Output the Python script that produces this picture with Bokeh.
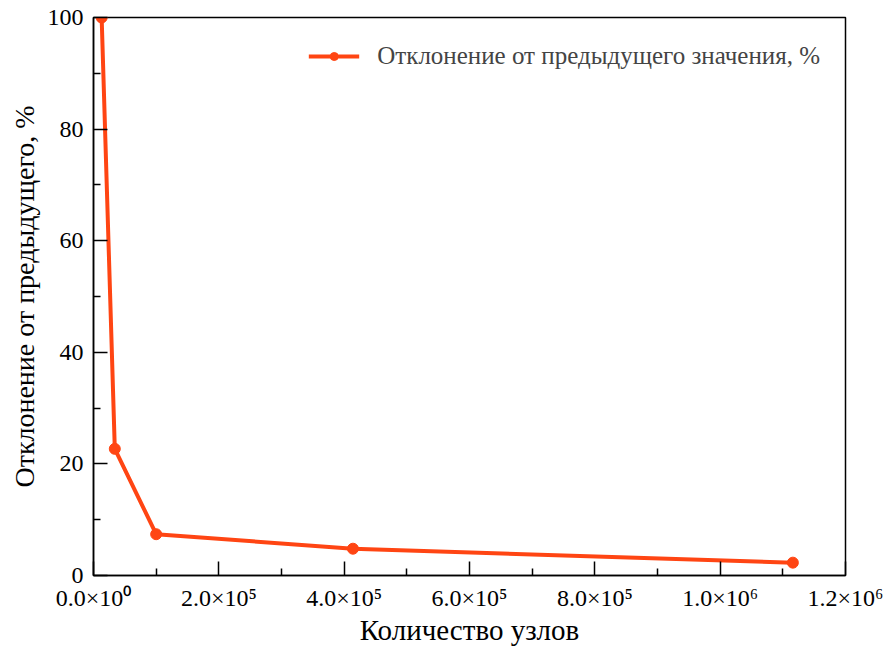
from bokeh.plotting import figure
from bokeh.models import FixedTicker, CustomJSTickFormatter, Range1d, Legend, LegendItem
from bokeh.embed import file_html
from bokeh.resources import INLINE

# data
nodes = [13000, 34000, 100000, 414000, 1116000]
deviation = [100.0, 22.7, 7.4, 4.8, 2.3]

x_ticks = [0, 200000, 400000, 600000, 800000, 1000000, 1200000]
x_minor = [100000, 300000, 500000, 700000, 900000, 1100000]
y_ticks = [0, 20, 40, 60, 80, 100]
y_minor = [10, 30, 50, 70, 90]

series_label = "Отклонение от предыдущего значения, %"
x_title = "Количество узлов"
y_title = "Отклонение от предыдущего, %"

FONT = "Liberation Serif"
COLOR = "#FF4513"

p = figure(width=884, height=649, output_backend="svg", toolbar_location=None,
           x_range=Range1d(0, 1200000), y_range=Range1d(0, 100),
           min_border_left=93, min_border_right=39, min_border_top=17, min_border_bottom=74)

p.xgrid.visible = False
p.ygrid.visible = False
p.outline_line_color = "black"
p.outline_line_width = 1.5
p.background_fill_color = "white"
p.border_fill_color = "white"

fmt = CustomJSTickFormatter(code="""
const sup = {'0':'\u2070','1':'\u00b9','2':'\u00b2','3':'\u00b3','4':'\u2074','5':'\u2075','6':'\u2076','7':'\u2077','8':'\u2078','9':'\u2079','-':'\u207b'};
if (tick == 0) { return "0.0\u00d710\u2070"; }
let e = Math.floor(Math.log10(Math.abs(tick)) + 1e-9);
let m = tick / Math.pow(10, e);
return m.toFixed(1) + "\u00d710" + String(e).split('').map(c => sup[c]).join('');
""")

xa = p.xaxis[0]
xa.ticker = FixedTicker(ticks=x_ticks, minor_ticks=x_minor)
xa.formatter = fmt
ya = p.yaxis[0]
ya.ticker = FixedTicker(ticks=y_ticks, minor_ticks=y_minor)

for ax in (xa, ya):
    ax.major_tick_in = 14
    ax.major_tick_out = 0
    ax.minor_tick_in = 7
    ax.minor_tick_out = 0
    ax.axis_line_width = 1.5
    ax.major_tick_line_width = 1.5
    ax.minor_tick_line_width = 1.5
    ax.major_label_text_font = FONT
    ax.major_label_text_font_size = "24px"
    ax.major_label_text_color = "black"
    ax.axis_label_text_font = FONT
    ax.axis_label_text_font_style = "normal"
    ax.axis_label_text_color = "black"

xa.axis_label = x_title
ya.axis_label = y_title
xa.axis_label_text_font_size = "29px"
ya.axis_label_text_font_size = "28px"
xa.major_label_standoff = 9
ya.major_label_standoff = 10
xa.axis_label_standoff = 0
ya.axis_label_standoff = 5

r_line = p.line(nodes, deviation, line_color=COLOR, line_width=4)
r_pts = p.scatter(nodes, deviation, size=11, fill_color=COLOR, line_color=COLOR)

legend = Legend(items=[LegendItem(label=series_label, renderers=[r_line, r_pts])],
                location="top_right", border_line_color=None, background_fill_alpha=0,
                label_text_font=FONT, label_text_font_size="25px", glyph_width=51,
                margin=25, padding=10, label_standoff=18)
p.add_layout(legend)

open("out.html", "w").write(file_html(p, INLINE))
